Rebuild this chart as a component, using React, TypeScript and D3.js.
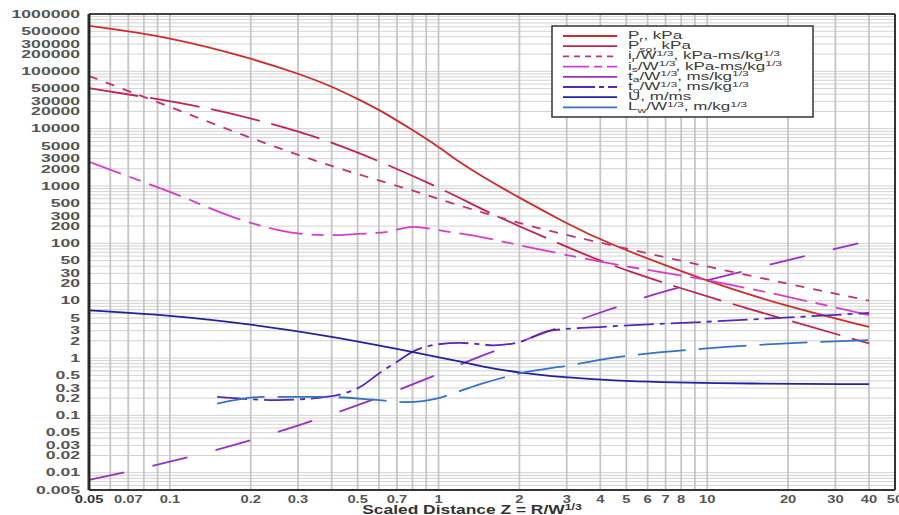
import React from "react";
import * as d3 from "d3";

const W = 899;
const H = 515;
const left = 89;
const right = 895;
const top = 14;
const bottom = 490;

// axis ticks
const xTickValues = [0.05, 0.07, 0.1, 0.2, 0.3, 0.5, 0.7, 1, 2, 3, 4, 5, 6, 7, 8, 10, 20, 30, 40, 50];
const xTickLabels = ["0.05", "0.07", "0.1", "0.2", "0.3", "0.5", "0.7", "1", "2", "3", "4", "5", "6", "7", "8", "10", "20", "30", "40", "50"];
const yTickLabels = [
  "1000000", "500000", "300000", "200000", "100000", "50000", "30000", "20000", "10000",
  "5000", "3000", "2000", "1000", "500", "300", "200", "100", "50", "30", "20", "10",
  "5", "3", "2", "1", "0.5", "0.3", "0.2", "0.1", "0.05", "0.03", "0.02", "0.01", "0.005",
];

// series (scaled distance Z -> value)
const prZ = [0.05, 0.1, 0.2, 0.3, 0.4, 0.5, 0.6, 0.8, 1.0, 1.2, 1.43, 2, 3, 4.1, 10, 20, 40];
const prV = [620000, 400000, 170000, 92000, 55000, 33000, 21600, 9500, 4850, 2560, 1540, 620, 223, 107, 21.7, 7.8, 3.5];

const psoZ = [0.05, 0.08, 0.133, 0.22, 0.38, 0.63, 1.07, 1.43, 1.95, 2.9, 4.9, 14, 40];
const psoV = [51000, 36000, 24000, 13700, 6500, 2500, 820, 406, 208, 93, 33, 7.3, 1.8];

const irZ = [0.05, 0.1, 0.2, 0.4, 0.8, 1.2, 1.74, 2.5, 4.1, 10, 40];
const irV = [83000, 24000, 6800, 2160, 850, 450, 272, 170, 100, 39, 10];

const isZ = [0.05, 0.1, 0.2, 0.3, 0.4, 0.5, 0.65, 0.8, 0.9, 1.0, 1.43, 2, 4.1, 10, 40];
const isV = [2640, 790, 228, 149, 139, 146, 160, 194, 185, 170, 130, 93, 47, 22.8, 5.6];

const taZ = [0.05, 0.1, 0.2, 0.55, 0.94, 1.43, 2, 2.6, 3.46, 4.54, 5.78, 12.9, 36.5];
const taV = [0.0075, 0.0156, 0.037, 0.178, 0.47, 1.07, 1.9, 3.0, 4.9, 7.6, 11.2, 30.5, 100];

const toZ = [0.15, 0.25, 0.38, 0.52, 0.6, 0.7, 0.8, 1.0, 1.2, 1.43, 1.6, 2, 2.6, 4.1, 10, 40];
const toV = [0.21, 0.185, 0.21, 0.33, 0.54, 0.86, 1.28, 1.74, 1.84, 1.74, 1.67, 1.9, 3.0, 3.5, 4.3, 6.1];

const uZ = [0.05, 0.1, 0.2, 0.4, 0.8, 1.2, 1.43, 2, 3, 4.1, 10, 40];
const uV = [6.8, 5.6, 3.9, 2.4, 1.28, 0.88, 0.72, 0.55, 0.46, 0.41, 0.36, 0.35];

const lwZ = [0.15, 0.22, 0.38, 0.6, 0.76, 1.0, 1.2, 1.43, 1.69, 2, 3.1, 4.1, 10, 40];
const lwV = [0.16, 0.21, 0.21, 0.184, 0.171, 0.2, 0.265, 0.35, 0.44, 0.54, 0.75, 0.95, 1.47, 2.05];

// legend labels: [text, "sub" | "sup" | ""]
const legendLabels: [string, string][][] = [
  [["P", ""], ["r", "sub"], [", kPa", ""]],
  [["P", ""], ["so", "sub"], [", kPa", ""]],
  [["i", ""], ["r", "sub"], ["/W", ""], ["1/3", "sup"], [", kPa-ms/kg", ""], ["1/3", "sup"]],
  [["i", ""], ["s", "sub"], ["/W", ""], ["1/3", "sup"], [", kPa-ms/kg", ""], ["1/3", "sup"]],
  [["t", ""], ["a", "sub"], ["/W", ""], ["1/3", "sup"], [", ms/kg", ""], ["1/3", "sup"]],
  [["t", ""], ["o", "sub"], ["/W", ""], ["1/3", "sup"], [", ms/kg", ""], ["1/3", "sup"]],
  [["U, m/ms", ""]],
  [["L", ""], ["w", "sub"], ["/W", ""], ["1/3", "sup"], [", m/kg", ""], ["1/3", "sup"]],
];

const series = [
  { key: "pr", z: prZ, v: prV, color: "#cf2b2b", dash: null, legendDash: null, smooth: true },
  { key: "pso", z: psoZ, v: psoV, color: "#c4234e", dash: "50,12", legendDash: null, smooth: true },
  { key: "ir", z: irZ, v: irV, color: "#c2307e", dash: "9,9", legendDash: "6,5", smooth: true },
  { key: "is", z: isZ, v: isV, color: "#d83ccf", dash: "34,9,12,9", legendDash: "26,5,8,5", smooth: false },
  { key: "ta", z: taZ, v: taV, color: "#9a2fc6", dash: "36,29", legendDash: null, smooth: false },
  { key: "to", z: toZ, v: toV, color: "#5a26b4", dash: "30,6,5,6", legendDash: "32,4,5,4", smooth: false },
  { key: "u", z: uZ, v: uV, color: "#22229e", dash: null, legendDash: null, smooth: true },
  { key: "lw", z: lwZ, v: lwV, color: "#3373c6", dash: "48,13", legendDash: null, smooth: false },
];

const x = d3.scaleLog().domain([0.05, 50]).range([left, right]);
const y = d3.scaleLog().domain([0.005, 1e6]).range([bottom, top]);

const minorX: number[] = [];
for (let d = -2; d <= 1; d++) {
  for (let k = 1; k <= 9; k++) {
    const v = +(k * Math.pow(10, d)).toPrecision(3);
    if (v > 0.05 && v < 50) minorX.push(v);
  }
}
const minorY: number[] = [];
for (let d = -3; d <= 5; d++) {
  for (let k = 1; k <= 9; k++) {
    const v = +(k * Math.pow(10, d)).toPrecision(3);
    if (v > 0.005 && v < 1e6) minorY.push(v);
  }
}

const lineMono = d3
  .line<[number, number]>()
  .x((d) => x(d[0]))
  .y((d) => y(d[1]))
  .curve(d3.curveMonotoneX);

const lineSmooth = d3
  .line<[number, number]>()
  .x((d) => x(d[0]))
  .y((d) => y(d[1]))
  .curve(d3.curveBasis);

const FONT = "'Liberation Sans', Arial, Helvetica, sans-serif";

// render text parts with explicit dy shifts for sub/superscripts
function richText(parts: [string, string][], small: number, subDy = 2.5, supDy = -3.5) {
  let shift = 0;
  return parts.map(([t, kind], i) => {
    const target = kind === "sub" ? subDy : kind === "sup" ? supDy : 0;
    const dy = target - shift;
    shift = target;
    return (
      <tspan key={i} dy={dy} fontSize={kind ? small : undefined}>
        {t}
      </tspan>
    );
  });
}

export default function App() {
  const legX = 552;
  const legY = 26;
  const rowH = 10.2;

  return (
    <svg
      width={W}
      height={H}
      style={{ position: "absolute", left: 0, top: 0, background: "#fff" }}
      fontFamily={FONT}
    >
      <defs>
        <clipPath id="plot">
          <rect x={left} y={top} width={right - left} height={bottom - top} />
        </clipPath>
      </defs>

      {/* grid */}
      {minorY.map((v) => (
        <line key={"gy" + v} x1={left} x2={right} y1={y(v)} y2={y(v)} stroke="#d2d2d2" strokeWidth={1} />
      ))}
      {minorX.map((v) => (
        <line key={"gx" + v} x1={x(v)} x2={x(v)} y1={top} y2={bottom} stroke="#c6c6c6" strokeWidth={1.8} />
      ))}

      {/* curves */}
      <g clipPath="url(#plot)" fill="none">
        {series.map((s) => {
          const pts = s.z.map((z, i) => [z, s.v[i]] as [number, number]);
          const gen = s.smooth ? lineSmooth : lineMono;
          return (
            <path
              key={s.key}
              d={gen(pts) || ""}
              stroke={s.color}
              strokeWidth={1.8}
              strokeDasharray={s.dash || undefined}
            />
          );
        })}
      </g>

      {/* frame */}
      <line x1={left} x2={right} y1={top} y2={top} stroke="#444" strokeWidth={2} />
      <line x1={left} x2={right} y1={bottom} y2={bottom} stroke="#333" strokeWidth={2} />
      <line x1={right} x2={right} y1={top} y2={bottom} stroke="#333" strokeWidth={2} />
      <line x1={left} x2={left} y1={top} y2={bottom} stroke="#2a2a2a" strokeWidth={3} />

      {/* y tick labels */}
      {yTickLabels.map((t) => (
        <text
          key={"yl" + t}
          transform={`translate(80,${y(+t)}) scale(1.6,1)`}
          textAnchor="end"
          dominantBaseline="central"
          fontSize={11}
          fontWeight="bold"
          fill="#555"
        >
          {t}
        </text>
      ))}

      {/* x tick labels */}
      {xTickValues.map((v, i) => (
        <text
          key={"xl" + v}
          transform={`translate(${x(v)},503) scale(1.4,1)`}
          textAnchor="middle"
          fontSize={10.5}
          fontWeight="bold"
          fill={i === 0 ? "#333" : "#555"}
        >
          {xTickLabels[i]}
        </text>
      ))}

      {/* axis title */}
      <text transform="translate(472,514) scale(1.45,1)" textAnchor="middle" fontSize={12} fontWeight="bold" fill="#333">
        {richText([["Scaled Distance Z = R/W", ""], ["1/3", "sup"]], 8.5, 0, -4)}
      </text>

      {/* legend */}
      <rect x={legX} y={legY} width={261} height={91} fill="#fff" stroke="#333" strokeWidth={1.5} />
      {series.map((s, i) => {
        const cy = legY + 10 + i * rowH;
        return (
          <g key={"lg" + s.key}>
            <line
              x1={563}
              x2={617}
              y1={cy}
              y2={cy}
              stroke={s.color}
              strokeWidth={1.8}
              strokeDasharray={s.legendDash || undefined}
            />
            <text transform={`translate(628,${cy + 3}) scale(1.62,1)`} fontSize={10.5} fill="#3a3a3a">
              {richText(legendLabels[i], 7.5)}
            </text>
          </g>
        );
      })}
    </svg>
  );
}
